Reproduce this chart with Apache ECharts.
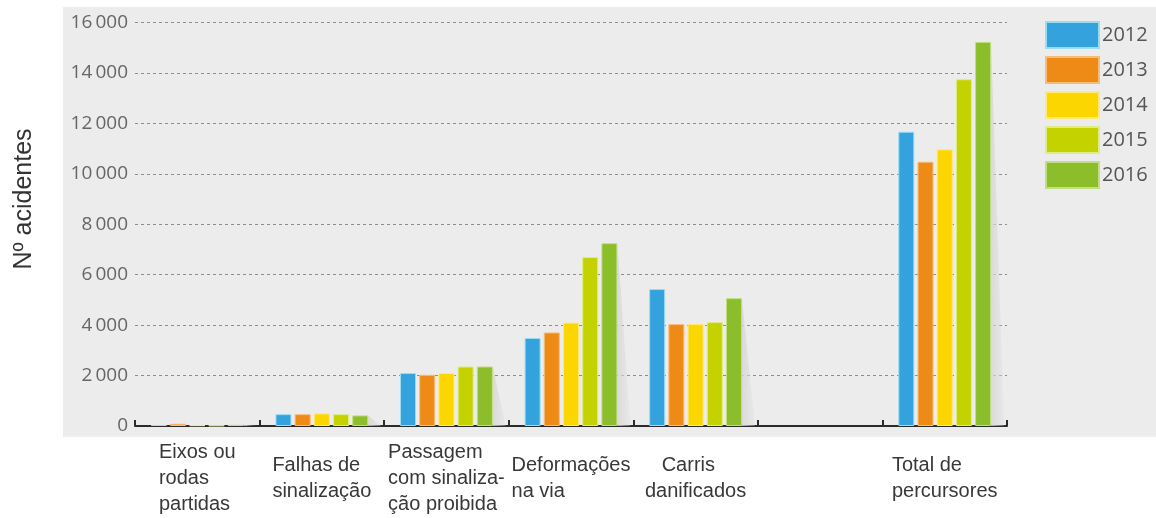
<!DOCTYPE html>
<html>
<head>
<meta charset="utf-8">
<script src="https://cdn.jsdelivr.net/npm/echarts@6/dist/echarts.min.js"></script>
<style>
  html, body { margin: 0; padding: 0; background: #ffffff; }
  #chart { width: 1156px; height: 518px; }
</style>
</head>
<body>
<div id="chart"></div>
<script>
// Accident causes (categories); the blank slot separates the total group
const categories = [
  'Eixos ou\nrodas\npartidas',
  'Falhas de\nsinalização',
  'Passagem\ncom sinaliza-\nção proibida',
  'Deformações\nna via',
  '   Carris\ndanificados',
  '',
  'Total de\npercursores'
];
const years = ['2012', '2013', '2014', '2015', '2016'];

// Number of accidents per year, one value per category
const v2012 = [40, 470, 2100, 3490, 5430, null, 11670];
const v2013 = [90, 470, 2030, 3710, 4040, null, 10480];
const v2014 = [30, 500, 2100, 4100, 4040, null, 10970];
const v2015 = [20, 470, 2360, 6700, 4120, null, 13750];
const v2016 = [50, 420, 2360, 7250, 5070, null, 15230];
const seriesValues = [v2012, v2013, v2014, v2015, v2016];

// Y axis ticks
const yTicks = [0, 2000, 4000, 6000, 8000, 10000, 12000, 14000, 16000];

// Fill and edge colours per year
const fills = ['#34a2dc', '#ee8b17', '#fbd600', '#c4d300', '#8cbd2a'];
const edges = ['#9adcf4', '#f7bd78', '#ffe978', '#e2ec86', '#c2df80'];

const BAR_W = 16;
const BAR_GAP = 0.2;
const groupHalf = (BAR_W * 5 + BAR_W * BAR_GAP * 4) / 2;

const chart = echarts.init(document.getElementById('chart'), null, { renderer: 'canvas' });

const fmtThousands = v => {
  const s = String(v);
  return s.length > 3 ? s.slice(0, s.length - 3) + '\u2009' + s.slice(-3) : s;
};

const barSeries = years.map((y, i) => ({
  name: y,
  type: 'bar',
  data: seriesValues[i],
  barWidth: BAR_W,
  barGap: (BAR_GAP * 100) + '%',
  z: 3,
  itemStyle: { color: fills[i], borderColor: edges[i], borderWidth: 1 }
}));

// Soft grey wedge behind the last bar of each group
const wedgeData = categories
  .map((c, i) => [i, v2016[i]])
  .filter(d => d[1] != null);

const wedgeSeries = {
  type: 'custom',
  silent: true,
  z: 1,
  data: wedgeData,
  renderItem: (params, api) => {
    const top = api.coord([api.value(0), api.value(1)]);
    const base = api.coord([api.value(0), 0]);
    const r = top[0] + groupHalf;
    return {
      type: 'polygon',
      shape: { points: [[r, top[1]], [r + 13, base[1]], [r, base[1]]] },
      style: {
        fill: new echarts.graphic.LinearGradient(0, 0, 1, 0, [
          { offset: 0, color: 'rgba(214,214,214,0.85)' },
          { offset: 1, color: 'rgba(222,222,222,0.3)' }
        ])
      }
    };
  }
};

const option = {
  animation: false,
  backgroundColor: '#ffffff',
  graphic: [
    {
      type: 'rect',
      z: -100,
      shape: { x: 63, y: 7, width: 1093, height: 430 },
      style: { fill: '#ececec' },
      silent: true
    },
    {
      type: 'text',
      x: 24,
      y: 199,
      rotation: Math.PI / 2,
      style: {
        text: 'Nº acidentes',
        fontFamily: 'Liberation Sans, Arial, sans-serif',
        fontSize: 25,
        fill: '#333333',
        align: 'center',
        verticalAlign: 'middle'
      }
    }
  ],
  grid: { left: 135, right: 149, top: 22.5, bottom: 92, containLabel: false },
  legend: {
    orient: 'vertical',
    left: 1040,
    top: 16,
    itemWidth: 53,
    itemHeight: 26,
    itemGap: 7,
    icon: 'rect',
    data: years.map((y, i) => ({
      name: y,
      itemStyle: { color: fills[i], borderColor: edges[i], borderWidth: 2 }
    })),
    textStyle: {
      fontFamily: "'Open Sans', sans-serif",
      fontSize: 20,
      color: '#555555',
      padding: [0, 0, 0, -2]
    }
  },
  xAxis: {
    type: 'category',
    data: categories,
    boundaryGap: true,
    axisLine: { lineStyle: { color: '#2b2b2b', width: 2 } },
    axisTick: { show: true, inside: true, length: 6, lineStyle: { color: '#2b2b2b', width: 2 } },
    splitLine: { show: false },
    axisLabel: {
      interval: 0,
      margin: 52,
      verticalAlign: 'middle',
      formatter: v => v ? v.split('\n').map(l => '{a|' + l + '}').join('\n') : '',
      rich: {
        a: {
          align: 'left',
          fontFamily: 'Liberation Sans, Arial, sans-serif',
          fontSize: 20,
          lineHeight: 26,
          color: '#383838'
        }
      }
    }
  },
  yAxis: {
    type: 'value',
    min: yTicks[0],
    max: yTicks[yTicks.length - 1],
    interval: yTicks[1] - yTicks[0],
    axisLine: { show: false },
    axisTick: { show: false },
    splitLine: { lineStyle: { color: '#8c8c8c', type: [3, 3], width: 1 } },
    axisLabel: {
      margin: 7,
      fontFamily: "'Open Sans', sans-serif",
      fontSize: 19,
      color: '#666666',
      formatter: fmtThousands
    }
  },
  series: [wedgeSeries].concat(barSeries)
};

chart.setOption(option);
</script>
</body>
</html>
